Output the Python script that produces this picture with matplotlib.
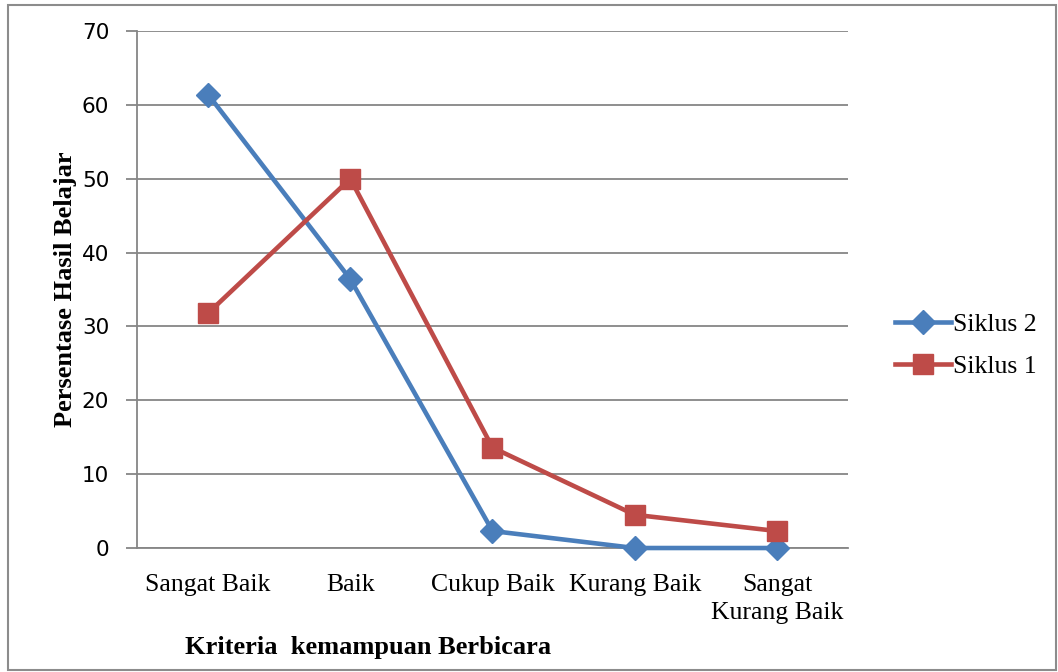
import matplotlib.pyplot as plt
from matplotlib.patches import Rectangle

categories = ["Sangat Baik", "Baik", "Cukup Baik", "Kurang Baik", "Sangat\nKurang Baik"]
siklus2 = [61.4, 36.4, 2.3, 0.0, 0.0]
siklus1 = [31.8, 50.0, 13.6, 4.5, 2.3]
yticks = [0, 10, 20, 30, 40, 50, 60, 70]

serif = "Liberation Serif"

fig = plt.figure(figsize=(10.58, 6.72), dpi=100)
fig.patches.append(Rectangle((0.008, 0.003), 0.99, 0.99, transform=fig.transFigure,
                             fill=False, edgecolor="#8c8c8c", linewidth=1.5))
ax = fig.add_axes([0.1295, 0.1845, 0.672, 0.7694])

x = range(len(categories))
ax.plot(x, siklus2, color="#4a7ebb", linewidth=3.3, marker="D", markersize=12,
        label="Siklus 2", zorder=3, clip_on=False)
ax.plot(x, siklus1, color="#be4b48", linewidth=3.3, marker="s", markersize=14.5,
        label="Siklus 1", zorder=3, clip_on=False)

ax.set_xlim(-0.5, len(categories) - 0.5)
ax.set_ylim(0, 70)
ax.set_yticks(yticks)
ax.set_xticks(list(x))
ax.set_xticklabels(categories, fontfamily=serif, fontsize=18.5, linespacing=1.3)
ax.tick_params(axis="x", length=0, pad=19)
ax.tick_params(axis="y", length=8, width=1.3, color="#868686", labelsize=15.5, pad=12)
for lab in ax.get_yticklabels():
    lab.set_fontfamily("DejaVu Sans")

ax.grid(axis="y", color="#868686", linewidth=1.3)
ax.set_axisbelow(True)
for s in ["top", "right"]:
    ax.spines[s].set_visible(False)
for s in ["left", "bottom"]:
    ax.spines[s].set_color("#868686")
    ax.spines[s].set_linewidth(1.3)

ax.set_ylabel("Persentase Hasil Belajar", fontfamily=serif, fontweight="bold",
              fontsize=19)
ax.yaxis.set_label_coords(-0.085, 0.5)
fig.text(0.348, 0.037, "Kriteria  kemampuan Berbicara", fontfamily=serif,
         fontweight="bold", fontsize=19, ha="center", va="center")

ax.legend(loc="center left", bbox_to_anchor=(1.034, 0.391), frameon=False,
          prop={"family": serif, "size": 18.5}, handlelength=2.15, labelspacing=0.75,
          handletextpad=0.1)

fig.savefig("out.png", dpi=100)
